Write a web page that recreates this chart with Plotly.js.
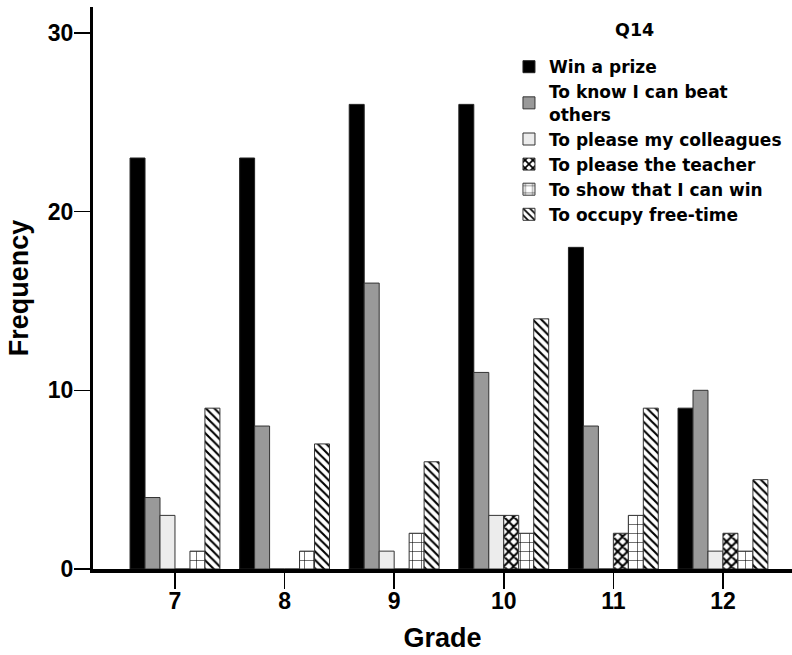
<!DOCTYPE html>
<html>
<head>
<meta charset="utf-8">
<script src="https://cdn.plot.ly/plotly-3.0.1.min.js"></script>
<style>
  html, body { margin: 0; padding: 0; background: #ffffff; }
  #chart { width: 792px; height: 655px; }
</style>
</head>
<body>
<div id="chart"></div>
<script>
// Grades on the x axis
const grades = ["7", "8", "9", "10", "11", "12"];

// Frequencies of each motive per grade
const winPrize        = [23, 23, 26, 26, 18, 9];
const beatOthers      = [4, 8, 16, 11, 8, 10];
const pleaseColleague = [3, 0, 1, 3, 0, 1];
const pleaseTeacher   = [0, 0, 0, 3, 2, 2];
const showCanWin      = [1, 1, 2, 2, 3, 1];
const occupyFreeTime  = [9, 7, 6, 14, 9, 5];

// Legend labels and heading
const seriesNames = [
  "Win a prize",
  "To know I can beat<br>others",
  "To please my colleagues",
  "To please the teacher",
  "To show that I can win",
  "To occupy free-time"
];
const legendHeading = "Q14";

const FONT = "Liberation Sans, Arial, Helvetica, sans-serif";
const LEGEND_FONT = "DejaVu Sans, Liberation Sans, Arial, sans-serif";
const outline = { color: "#333333", width: 1 };

const traces = [
  { y: winPrize, marker: { color: "#000000", line: { color: "#222222", width: 1 } } },
  { y: beatOthers, marker: { color: "#999999", line: outline } },
  { y: pleaseColleague, marker: { color: "#ececec", line: outline } },
  { y: pleaseTeacher, marker: { color: "#ffffff", line: outline,
      pattern: { shape: "x", fgcolor: "#000000", bgcolor: "#ffffff", size: 7, solidity: 0.5 } } },
  { y: showCanWin, marker: { color: "#ffffff", line: outline,
      pattern: { shape: "+", fgcolor: "#000000", bgcolor: "#ffffff", size: 9, solidity: 0.12 } } },
  { y: occupyFreeTime, marker: { color: "#ffffff", line: outline,
      pattern: { shape: "\\", fgcolor: "#000000", bgcolor: "#ffffff", size: 6, solidity: 0.35 } } }
].map((t, i) => Object.assign({
  type: "bar",
  x: grades,
  name: seriesNames[i],
  hoverinfo: "x+y+name"
}, t));

const layout = {
  width: 792,
  height: 655,
  margin: { l: 93, r: 0, t: 7, b: 86 },
  paper_bgcolor: "#ffffff",
  plot_bgcolor: "#ffffff",
  font: { family: FONT, color: "#000000" },
  barmode: "group",
  bargap: 0.18,
  bargroupgap: 0,
  showlegend: true,
  xaxis: {
    type: "category",
    range: [-0.748, 5.63],
    showline: true,
    linecolor: "#000000",
    linewidth: 3.5,
    ticks: "outside",
    ticklen: 16,
    tickwidth: 1.5,
    tickcolor: "#000000",
    ticklabelstandoff: -7,
    showgrid: false,
    zeroline: false,
    tickfont: { family: FONT, size: 23, weight: "bold", color: "#000000" },
    title: { text: "Grade", font: { family: FONT, size: 27, weight: "bold", color: "#000000" }, standoff: 16 }
  },
  yaxis: {
    range: [0, 31.45],
    tickvals: [0, 10, 20, 30],
    showline: true,
    linecolor: "#000000",
    linewidth: 3,
    ticks: "outside",
    ticklen: 16,
    tickwidth: 1.5,
    tickcolor: "#000000",
    ticklabelstandoff: -4,
    showgrid: false,
    zeroline: false,
    tickfont: { family: FONT, size: 23, weight: "bold", color: "#000000" },
    title: { text: "Frequency", font: { family: FONT, size: 27, weight: "bold", color: "#000000" }, standoff: 12 }
  },
  legend: {
    x: 0.5951,
    xanchor: "left",
    y: 0.925,
    yanchor: "top",
    bgcolor: "rgba(0,0,0,0)",
    borderwidth: 0,
    traceorder: "normal",
    font: { family: LEGEND_FONT, size: 17, weight: "bold", color: "#000000" }
  },
  annotations: [{
    text: legendHeading,
    xref: "paper", yref: "paper",
    x: 0.775, y: 1 - (30 - 7) / 562,
    xanchor: "center", yanchor: "middle",
    showarrow: false,
    font: { family: LEGEND_FONT, size: 17.5, weight: "bold", color: "#000000" }
  }]
};

Plotly.newPlot("chart", traces, layout, { displayModeBar: false, staticPlot: true });
</script>
</body>
</html>
